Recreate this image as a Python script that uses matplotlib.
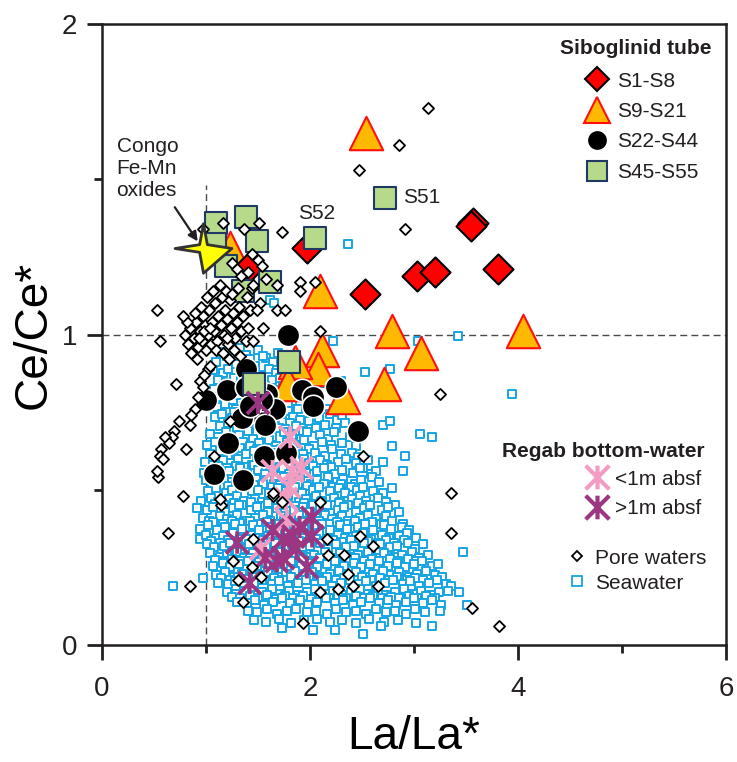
import numpy as np
import matplotlib
matplotlib.use('Agg')
import matplotlib.pyplot as plt
from matplotlib.path import Path
from matplotlib.lines import Line2D

plt.rcParams['font.family'] = ['Liberation Sans', 'DejaVu Sans']
plt.rcParams['text.color'] = '#231F20'

# Siboglinid tube samples
s1_s8_x = [1.42, 1.97, 2.53, 3.03, 3.20, 3.57, 3.55, 3.81]
s1_s8_y = [1.22, 1.28, 1.13, 1.19, 1.20, 1.36, 1.35, 1.21]

s9_s21_x = [2.54, 2.10, 2.79, 4.05, 3.07, 2.12, 2.71, 2.32, 2.08, 1.23, 1.83, 1.86, 1.79]
s9_s21_y = [1.65, 1.14, 1.01, 1.01, 0.94, 0.95, 0.84, 0.80, 0.89, 1.28, 0.86, 0.91, 0.84]

s22_s44_x = [1.79, 1.38, 1.20, 1.00, 1.38, 1.59, 1.66, 1.50, 1.35, 1.57, 1.92, 2.03,
             2.03, 2.25, 2.46, 1.21, 1.56, 1.77, 1.08, 1.36, 1.54, 1.42, 1.47]
s22_s44_y = [1.00, 0.89, 0.82, 0.79, 0.83, 0.81, 0.76, 0.75, 0.73, 0.71, 0.82, 0.80,
             0.77, 0.83, 0.69, 0.65, 0.61, 0.62, 0.55, 0.53, 0.79, 0.77, 0.84]

s45_s55_x = [1.10, 1.38, 1.49, 1.19, 1.36, 1.62, 2.05, 2.72, 1.80, 1.46, 1.09]
s45_s55_y = [1.36, 1.38, 1.30, 1.22, 1.14, 1.17, 1.31, 1.44, 0.91, 0.84, 1.29]

# Regab bottom-water
bw_shallow_x = [1.81, 1.64, 1.83, 1.92, 1.80, 1.77, 1.78, 1.53]
bw_shallow_y = [0.67, 0.56, 0.56, 0.57, 0.51, 0.47, 0.40, 0.31]
bw_deep_x = [1.50, 1.30, 1.64, 1.74, 1.74, 1.87, 2.02, 2.02, 1.97, 1.42, 1.68, 1.84, 1.57, 1.90]
bw_deep_y = [0.78, 0.33, 0.37, 0.34, 0.28, 0.31, 0.41, 0.35, 0.25, 0.20, 0.27, 0.35, 0.28, 0.38]

congo_x, congo_y = 0.97, 1.28

pore_waters = [
    (0.80, 1.00), (0.83, 0.97), (0.85, 1.02), (0.88, 0.99), (0.90, 1.04), (0.92, 0.96),
    (0.94, 1.01), (0.96, 0.98), (0.97, 1.06), (0.99, 1.03), (1.00, 0.95), (1.02, 1.00),
    (1.03, 1.08), (1.05, 0.97), (1.06, 1.04), (1.08, 1.01), (1.09, 1.10), (1.11, 0.98),
    (1.12, 1.06), (1.14, 1.03), (1.15, 1.12), (1.17, 1.00), (1.18, 1.08), (1.20, 1.05),
    (1.21, 0.97), (1.23, 1.11), (1.24, 1.02), (1.26, 1.07), (1.28, 0.99), (1.30, 1.04),
    (1.32, 1.09), (1.34, 1.01), (1.36, 1.06), (1.38, 0.98), (0.86, 0.94), (0.91, 0.92),
    (0.95, 1.09), (1.01, 1.12), (1.07, 1.14), (1.13, 1.16), (1.19, 1.14), (1.25, 1.13),
    (1.31, 1.15), (0.82, 1.04), (0.89, 1.07), (0.93, 0.99), (0.98, 1.01), (1.04, 1.02),
    (1.10, 0.95), (1.16, 0.94), (1.22, 0.92), (1.27, 0.95), (1.33, 0.93), (1.40, 1.02),
    (1.42, 1.08), (1.45, 0.98), (1.39, 1.12), (1.44, 1.15), (1.55, 1.02), (1.20, 0.99),
    (0.53, 1.08), (0.78, 1.06), (0.97, 1.34), (1.16, 1.36), (1.37, 1.34), (1.51, 1.36),
    (1.73, 1.33), (1.44, 1.26), (1.50, 1.24), (1.54, 1.22), (1.25, 1.23), (1.30, 1.21),
    (1.90, 1.17), (1.90, 1.14), (2.05, 1.17), (1.45, 1.16), (1.58, 1.18), (1.68, 1.16),
    (1.52, 1.10), (1.49, 1.08), (1.68, 1.08), (1.76, 1.08), (2.10, 1.01), (1.34, 1.19),
    (1.40, 1.20), (3.13, 1.73), (2.86, 1.61), (2.47, 1.53), (2.91, 1.34), (3.25, 0.81),
    (2.51, 0.61), (3.36, 0.49), (3.36, 0.36), (3.56, 0.12), (3.82, 0.06), (0.56, 0.98),
    (0.71, 0.84), (0.94, 0.85), (1.02, 0.89), (1.04, 0.90), (0.97, 0.83), (0.89, 0.76),
    (0.86, 0.74), (0.85, 0.71), (0.69, 0.69), (0.67, 0.67), (0.61, 0.67), (0.64, 0.65),
    (0.57, 0.63), (0.56, 0.61), (0.59, 0.60), (0.81, 0.63), (1.08, 0.61), (0.54, 0.54),
    (0.53, 0.56), (0.74, 0.72), (0.92, 0.80), (0.98, 0.87), (1.23, 0.72), (0.78, 0.48),
    (0.63, 0.36), (0.85, 0.19), (1.14, 0.45), (1.13, 0.47), (1.64, 0.48), (1.64, 0.49),
    (2.10, 0.46), (1.45, 0.34), (1.26, 0.27), (1.44, 0.25), (1.31, 0.21), (1.53, 0.22),
    (1.36, 0.14), (2.16, 0.34), (2.17, 0.29), (2.33, 0.29), (2.48, 0.35), (2.61, 0.32),
    (2.37, 0.23), (2.41, 0.19), (2.27, 0.18), (2.10, 0.17), (2.65, 0.19), (1.93, 0.07),
    (1.73, 0.46),
]

seawater = [
    (1.14, .945), (1.20, .93), (1.33, .955), (1.38, .935), (1.50, .95), (1.58, .925), (1.69, .94),
    (1.10, .91), (1.23, .925), (1.29, .905), (1.42, .92), (1.47, .90), (1.55, .93), (1.64, .91),
    (1.73, .92), (1.79, .905),
    (1.07, .885), (1.16, .875), (1.21, .89), (1.35, .88), (1.40, .895), (1.53, .87), (1.61, .89),
    (1.67, .875), (1.76, .885), (2.53, .88), (2.77, .89),
    (1.12, .855), (1.19, .845), (1.27, .86), (1.34, .85), (1.46, .865), (1.52, .84), (1.63, .855),
    (1.71, .86), (1.80, .845), (1.96, .85), (2.11, .845), (2.30, .85),
    (1.08, .825), (1.17, .835), (1.24, .82), (1.31, .83), (1.44, .825), (1.49, .815), (1.57, .835),
    (1.68, .82), (1.74, .83), (1.84, .815), (1.91, .83),
    (1.36, .81), (1.54, .815), (1.71, .81),
    (1.06, .795), (1.14, .80), (1.26, .79), (1.33, .805), (1.40, .785), (1.51, .80), (1.59, .79),
    (1.66, .805), (1.77, .795), (1.83, .785), (1.93, .80), (2.00, .79),
    (1.11, .765), (1.18, .775), (1.29, .76), (1.37, .77), (1.46, .78), (1.54, .76), (1.61, .77),
    (1.72, .765), (1.79, .775), (1.88, .76), (1.97, .765), (2.08, .77), (2.15, .76),
    (1.27, .75), (1.44, .755), (1.61, .75), (1.79, .755),
    (1.09, .735), (1.15, .745), (1.25, .73), (1.34, .74), (1.39, .725), (1.49, .745), (1.56, .735),
    (1.66, .73), (1.73, .745), (1.84, .735), (1.90, .725), (2.02, .74), (2.09, .73), (2.19, .745),
    (2.26, .725), (2.31, .74),
    (1.13, .705), (1.21, .715), (1.30, .70), (1.37, .71), (1.47, .72), (1.53, .70), (1.64, .71),
    (1.70, .70), (1.81, .715), (1.87, .705), (1.99, .72), (2.06, .70), (2.14, .71), (2.25, .70),
    (2.34, .715), (2.70, .71), (2.77, .72),
    (1.22, .69), (1.41, .695), (1.58, .69), (1.76, .695), (1.93, .69),
    (1.04, .68), (1.12, .67), (1.19, .685), (1.32, .675), (1.40, .69), (1.45, .665), (1.58, .68),
    (1.63, .67), (1.75, .685), (1.83, .675), (1.91, .665), (1.97, .685), (2.10, .675), (2.17, .665),
    (2.23, .685), (2.38, .67), (3.06, .68), (3.17, .67),
    (1.01, .645), (1.09, .655), (1.18, .64), (1.25, .65), (1.36, .655), (1.42, .64), (1.51, .65),
    (1.61, .66), (1.67, .64), (1.78, .655), (1.86, .645), (1.94, .66), (2.04, .64), (2.12, .655),
    (2.20, .645), (2.31, .65), (2.44, .64), (2.79, .64),
    (1.17, .63), (1.33, .635), (1.49, .632), (1.66, .628), (1.83, .636), (1.99, .63),
    (1.04, .615), (1.13, .625), (1.21, .61), (1.27, .63), (1.38, .615), (1.46, .625), (1.52, .61),
    (1.63, .62), (1.72, .63), (1.79, .61), (1.88, .625), (1.93, .615), (2.05, .62), (2.14, .61),
    (2.21, .63), (2.30, .615), (2.40, .62), (2.46, .605), (2.91, .61),
    (0.99, .59), (1.07, .58), (1.16, .595), (1.24, .585), (1.31, .60), (1.44, .58), (1.49, .595),
    (1.60, .585), (1.66, .60), (1.76, .58), (1.82, .59), (1.94, .60), (1.99, .585), (2.10, .595),
    (2.16, .58), (2.27, .59), (2.35, .60), (2.44, .585), (2.51, .57), (2.56, .595), (2.70, .59),
    (1.12, .575), (1.20, .57), (1.29, .578), (1.37, .572), (1.46, .58), (1.54, .569), (1.62, .577),
    (1.70, .571), (1.79, .579), (1.87, .568), (2.03, .576), (2.20, .572),
    (0.98, .555), (1.09, .565), (1.14, .55), (1.22, .56), (1.33, .57), (1.39, .555), (1.50, .565),
    (1.57, .55), (1.64, .56), (1.74, .57), (1.80, .55), (1.91, .565), (1.96, .555), (2.07, .56),
    (2.13, .57), (2.24, .55), (2.31, .565), (2.41, .555), (2.48, .57), (2.59, .55), (2.63, .56),
    (2.89, .56),
    (1.00, .53), (1.06, .52), (1.17, .535), (1.25, .525), (1.32, .54), (1.42, .52), (1.48, .535),
    (1.59, .53), (1.65, .52), (1.75, .54), (1.84, .525), (1.90, .535), (2.01, .52), (2.07, .53),
    (2.17, .54), (2.26, .525), (2.32, .535), (2.43, .52), (2.49, .53), (2.60, .54), (2.66, .525),
    (1.21, .512), (1.29, .518), (1.38, .508), (1.46, .515), (1.55, .52), (1.63, .51), (1.71, .516),
    (1.80, .507), (1.88, .518), (1.97, .512), (2.05, .506), (2.13, .517), (2.22, .51), (2.30, .52),
    (2.39, .508),
    (1.02, .495), (1.10, .505), (1.19, .49), (1.25, .50), (1.36, .51), (1.44, .495), (1.50, .50),
    (1.61, .49), (1.69, .505), (1.77, .495), (1.86, .51), (1.92, .49), (2.03, .50), (2.09, .51),
    (2.19, .495), (2.28, .505), (2.34, .49), (2.45, .50), (2.51, .51), (2.61, .495), (2.70, .49),
    (2.79, .505),
    (0.95, .465), (1.05, .475), (1.12, .46), (1.22, .47), (1.30, .48), (1.37, .465), (1.47, .47),
    (1.54, .46), (1.64, .475), (1.72, .465), (1.79, .48), (1.89, .46), (1.96, .47), (2.06, .48),
    (2.12, .465), (2.23, .475), (2.29, .46), (2.40, .47), (2.48, .48), (2.54, .465), (2.65, .475),
    (2.73, .46), (2.82, .45),
    (1.09, .455), (1.17, .45), (1.27, .458), (1.35, .452), (1.43, .46), (1.52, .449), (1.60, .457),
    (1.69, .451), (1.77, .459), (1.86, .448), (1.94, .456), (2.03, .452), (2.11, .46), (2.20, .45),
    (2.28, .457), (2.37, .451), (2.46, .459), (2.55, .45),
    (0.91, .44), (1.01, .435), (1.07, .445), (1.18, .43), (1.26, .44), (1.32, .45), (1.43, .435),
    (1.49, .445), (1.60, .43), (1.68, .44), (1.74, .45), (1.85, .435), (1.93, .445), (2.00, .43),
    (2.10, .44), (2.16, .45), (2.27, .435), (2.33, .445), (2.44, .43), (2.52, .44), (2.58, .45),
    (2.69, .435), (2.75, .445), (2.86, .43),
    (0.97, .41), (1.03, .40), (1.13, .415), (1.20, .405), (1.30, .42), (1.37, .40), (1.47, .41),
    (1.55, .42), (1.62, .40), (1.72, .415), (1.79, .405), (1.89, .42), (1.95, .40), (2.06, .41),
    (2.14, .42), (2.21, .405), (2.31, .415), (2.37, .40), (2.48, .41), (2.56, .42), (2.63, .405),
    (2.73, .415), (2.79, .40), (2.89, .39),
    (1.07, .395), (1.16, .39), (1.25, .398), (1.33, .392), (1.42, .40), (1.50, .389), (1.59, .397),
    (1.67, .391), (1.75, .399), (1.84, .388), (1.92, .396), (2.01, .392), (2.09, .40), (2.18, .39),
    (2.26, .397), (2.35, .391), (2.43, .399), (2.52, .39), (2.60, .396), (2.68, .39),
    (0.94, .375), (1.02, .385), (1.11, .37), (1.18, .38), (1.28, .39), (1.35, .375), (1.45, .385),
    (1.51, .37), (1.62, .38), (1.70, .39), (1.77, .37), (1.87, .385), (1.94, .375), (2.04, .38),
    (2.12, .39), (2.19, .37), (2.29, .385), (2.36, .375), (2.46, .38), (2.53, .39), (2.61, .37),
    (2.71, .385), (2.78, .375), (2.88, .38), (2.95, .37),
    (0.94, .34), (1.00, .355), (1.10, .345), (1.16, .35), (1.26, .36), (1.33, .34), (1.43, .355),
    (1.50, .345), (1.60, .35), (1.68, .36), (1.75, .34), (1.85, .355), (1.92, .345), (2.02, .35),
    (2.09, .36), (2.17, .34), (2.27, .355), (2.34, .345), (2.44, .35), (2.51, .36), (2.59, .34),
    (2.69, .355), (2.76, .345), (2.86, .35), (2.93, .36), (3.02, .345),
    (1.05, .335), (1.13, .33), (1.21, .338), (1.30, .332), (1.38, .34), (1.47, .329), (1.55, .337),
    (1.64, .331), (1.72, .339), (1.80, .328), (1.89, .336), (1.97, .332), (2.06, .34), (2.14, .33),
    (2.22, .337), (2.31, .331), (2.39, .339), (2.48, .33), (2.56, .336), (2.65, .33), (2.73, .338),
    (2.81, .33), (2.90, .337),
    (1.01, .325), (1.08, .315), (1.17, .32), (1.23, .33), (1.34, .31), (1.41, .325), (1.51, .315),
    (1.58, .32), (1.66, .33), (1.76, .31), (1.83, .325), (1.93, .315), (2.00, .32), (2.10, .33),
    (2.17, .31), (2.25, .325), (2.35, .315), (2.42, .32), (2.52, .33), (2.59, .31), (2.67, .325),
    (2.77, .315), (2.84, .32), (2.94, .33), (3.01, .31), (3.09, .325),
    (1.04, .295), (1.13, .285), (1.20, .29), (1.30, .30), (1.37, .28), (1.45, .295), (1.55, .285),
    (1.62, .29), (1.72, .30), (1.79, .28), (1.87, .295), (1.97, .285), (2.04, .29), (2.14, .30),
    (2.21, .28), (2.29, .295), (2.39, .285), (2.46, .29), (2.56, .30), (2.63, .28), (2.71, .295),
    (2.81, .285), (2.88, .29), (2.98, .30), (3.05, .28), (3.13, .29), (3.47, .30),
    (1.09, .275), (1.17, .27), (1.25, .278), (1.34, .272), (1.42, .28), (1.51, .269), (1.59, .277),
    (1.68, .271), (1.76, .279), (1.84, .268), (1.93, .276), (2.01, .272), (2.10, .28), (2.18, .27),
    (2.26, .277), (2.35, .271), (2.43, .279), (2.52, .27), (2.60, .276), (2.69, .27), (2.77, .278),
    (2.85, .27), (2.94, .277), (3.02, .27),
    (1.07, .255), (1.16, .265), (1.23, .25), (1.32, .26), (1.40, .27), (1.49, .255), (1.58, .265),
    (1.65, .25), (1.74, .26), (1.82, .27), (1.91, .255), (2.00, .265), (2.07, .25), (2.16, .26),
    (2.24, .27), (2.33, .255), (2.42, .265), (2.49, .25), (2.58, .26), (2.66, .27), (2.75, .255),
    (2.84, .265), (2.91, .25), (3.00, .26), (3.08, .27), (3.17, .255), (3.23, .26),
    (1.10, .225), (1.18, .235), (1.27, .22), (1.35, .23), (1.44, .24), (1.52, .225), (1.60, .235),
    (1.69, .22), (1.77, .23), (1.86, .24), (1.94, .225), (2.02, .235), (2.11, .22), (2.19, .23),
    (2.28, .24), (2.36, .225), (2.44, .235), (2.53, .22), (2.61, .23), (2.70, .24), (2.78, .225),
    (2.86, .235), (2.95, .22), (3.03, .23), (3.12, .24), (3.20, .225), (3.27, .22),
    (1.14, .215), (1.23, .21), (1.31, .218), (1.40, .212), (1.48, .22), (1.57, .209), (1.65, .217),
    (1.74, .211), (1.82, .219), (1.91, .208), (1.99, .216), (2.08, .212), (2.16, .22), (2.25, .21),
    (2.33, .217), (2.42, .211), (2.50, .219), (2.59, .21), (2.67, .216), (2.76, .21), (2.84, .218),
    (2.93, .21), (3.01, .217), (3.09, .21),
    (0.68, .19), (0.97, .215), (1.12, .20), (1.21, .195), (1.28, .205), (1.37, .19), (1.46, .20),
    (1.54, .21), (1.63, .195), (1.70, .205), (1.79, .19), (1.88, .20), (1.96, .21), (2.05, .195),
    (2.12, .205), (2.21, .19), (2.30, .20), (2.38, .21), (2.47, .195), (2.54, .205), (2.63, .19),
    (2.72, .20), (2.80, .21), (2.89, .195), (2.96, .205), (3.05, .19), (3.14, .20), (3.22, .21),
    (3.31, .195), (3.36, .19),
    (1.20, .17), (1.29, .165), (1.37, .175), (1.46, .16), (1.54, .17), (1.63, .18), (1.71, .165),
    (1.80, .175), (1.88, .16), (1.97, .17), (2.05, .18), (2.14, .165), (2.22, .175), (2.31, .16),
    (2.39, .17), (2.48, .18), (2.56, .165), (2.65, .175), (2.73, .16), (2.82, .17), (2.90, .18),
    (2.99, .165), (3.07, .175), (3.16, .16), (3.24, .17), (3.33, .175), (3.43, .17),
    (1.25, .155), (1.33, .15), (1.42, .158), (1.50, .152), (1.59, .16), (1.67, .149), (1.76, .157),
    (1.84, .151), (1.93, .159), (2.01, .148), (2.10, .156), (2.18, .152), (2.27, .16), (2.35, .15),
    (2.44, .157), (2.52, .151), (2.61, .159), (2.69, .15), (2.78, .156), (2.86, .15), (2.95, .158),
    (3.03, .15), (3.12, .157), (3.20, .15),
    (1.30, .14), (1.39, .135), (1.47, .145), (1.56, .13), (1.64, .14), (1.73, .15), (1.81, .135),
    (1.90, .145), (1.98, .13), (2.07, .14), (2.15, .15), (2.24, .135), (2.32, .145), (2.41, .13),
    (2.49, .14), (2.58, .15), (2.66, .135), (2.75, .145), (2.83, .13), (2.92, .14), (3.00, .15),
    (3.09, .135), (3.17, .145), (3.26, .13), (3.51, .13),
    (1.40, .11), (1.49, .105), (1.59, .115), (1.68, .10), (1.78, .11), (1.87, .115), (1.97, .105),
    (2.06, .11), (2.16, .10), (2.25, .115), (2.35, .105), (2.44, .11), (2.54, .10), (2.63, .115),
    (2.73, .105), (2.82, .11), (2.92, .10), (3.01, .115), (3.11, .105), (3.25, .11),
    (1.46, .08), (1.58, .075), (1.70, .085), (1.82, .07), (1.94, .08), (2.07, .085), (2.19, .075),
    (2.31, .08), (2.44, .07), (2.57, .085), (2.71, .075), (2.85, .08), (3.02, .07),
    (1.73, .055), (2.03, .05), (2.24, .05), (2.51, .035), (2.68, .06), (3.17, .06),
    (2.37, 1.29), (1.62, 1.11), (1.65, 1.10), (2.22, .98), (3.04, .98), (3.42, .995), (3.94, .81),
]

# marker shapes
asterisk = Path([(0, -1), (0, 1), (-1, -1), (1, 1), (-1, 1), (1, -1)],
                [Path.MOVETO, Path.LINETO] * 3)
ang = np.deg2rad(np.arange(0, 360, 45))
rad = np.array([1.15, 0.22, 1.0, 0.22, 1.15, 0.22, 1.0, 0.22])
star4 = Path(np.column_stack([rad * np.cos(ang), rad * np.sin(ang)]), closed=True)

ink = '#231F20'
sw_col = '#14A5E3'
tri_face, tri_edge = '#FFB900', '#FF1010'
green, navy = '#B6D98A', '#1F3864'
pink, purple = '#F29CC2', '#9C3582'

fig = plt.figure(figsize=(7.37, 7.62), dpi=100)
ax = fig.add_axes([0.1384, 0.1535, 0.8467, 0.815])

sw = np.array(seawater)
pw = np.array(pore_waters)

ax.axhline(1, color='#4A4A4A', lw=1, ls=(0, (5, 3)), zorder=1)
ax.vlines(1, 0, 1.48, color='#4A4A4A', lw=1, ls=(0, (5, 3)), zorder=1)

ax.scatter(sw[:, 0], sw[:, 1], marker='s', s=30, facecolors='white',
           edgecolors=sw_col, linewidths=1.4, zorder=2)
ax.scatter(s9_s21_x, s9_s21_y, marker='^', s=580, facecolors=tri_face,
           edgecolors=tri_edge, linewidths=1.5, zorder=3)
ax.scatter(s1_s8_x, s1_s8_y, marker='D', s=234, facecolors='#FF0000',
           edgecolors='black', linewidths=1.5, zorder=4)
ax.scatter(s22_s44_x, s22_s44_y, marker='o', s=260, facecolors='black',
           edgecolors='white', linewidths=1.2, zorder=5)
ax.scatter(s45_s55_x, s45_s55_y, marker='s', s=272, facecolors=green,
           edgecolors=navy, linewidths=1.5, zorder=6)
ax.scatter(bw_shallow_x, bw_shallow_y, marker=asterisk, s=256, facecolors='none',
           edgecolors=pink, linewidths=2.8, zorder=7)
ax.scatter(bw_deep_x, bw_deep_y, marker=asterisk, s=256, facecolors='none',
           edgecolors=purple, linewidths=2.8, zorder=7)
ax.scatter(pw[:, 0], pw[:, 1], marker='D', s=32, facecolors='white',
           edgecolors='black', linewidths=1.3, zorder=8)
ax.scatter([congo_x], [congo_y], marker=star4, s=1680, facecolors='#FFFF00',
           edgecolors='#333333', linewidths=2, zorder=9)

ax.text(0.14, 1.635, 'Congo\nFe-Mn\noxides', fontsize=15, va='top', ha='left',
        linespacing=1.2, color=ink)
ax.annotate('', xy=(0.92, 1.30), xytext=(0.70, 1.41),
            arrowprops=dict(arrowstyle='-|>', color=ink, lw=1.6,
                            mutation_scale=14, shrinkA=0, shrinkB=0), zorder=10)
ax.text(2.06, 1.39, 'S52', fontsize=15, ha='center', va='center')
ax.text(2.89, 1.44, 'S51', fontsize=15, ha='left', va='center')

ax.set_xlim(0, 6)
ax.set_ylim(0, 2)
ax.set_xticks([0, 2, 4, 6])
ax.set_xticks([1, 3, 5], minor=True)
ax.set_yticks([0, 1, 2])
ax.set_yticks([0.5, 1.5], minor=True)
ax.tick_params(which='major', length=11, width=2, labelsize=20, pad=7,
               color=ink, labelcolor=ink)
ax.tick_params(axis='x', which='major', pad=11)
ax.tick_params(which='minor', length=6, width=2, color=ink)
for sp in ax.spines.values():
    sp.set_linewidth(1.8)
    sp.set_color(ink)

ax.set_xlabel('La/La*', fontsize=33, labelpad=10)
ax.set_ylabel('Ce/Ce*', fontsize=33, labelpad=4)

# legends
ax.text(0.976, 0.961, 'Siboglinid tube', transform=ax.transAxes, fontsize=15,
        fontweight='bold', ha='right', va='center')
ax.text(0.966, 0.311, 'Regab bottom-water', transform=ax.transAxes, fontsize=15,
        fontweight='bold', ha='right', va='center')

tube_handles = [
    Line2D([], [], ls='none', marker='D', ms=12.5, mfc='#FF0000', mec='black', mew=1.5, label='S1-S8'),
    Line2D([], [], ls='none', marker='^', ms=19, mfc=tri_face, mec=tri_edge, mew=1.5, label='S9-S21'),
    Line2D([], [], ls='none', marker='o', ms=14.5, mfc='black', mec='white', mew=1, label='S22-S44'),
    Line2D([], [], ls='none', marker='s', ms=14.5, mfc=green, mec=navy, mew=1.5, label='S45-S55'),
]
water_handles = [
    Line2D([], [], ls='none', marker=asterisk, ms=17, mec=pink, mew=3, label='<1m absf'),
    Line2D([], [], ls='none', marker=asterisk, ms=17, mec=purple, mew=3, label='>1m absf'),
]
other_handles = [
    Line2D([], [], ls='none', marker='D', ms=5.5, mfc='white', mec='black', mew=1.3, label='Pore waters'),
    Line2D([], [], ls='none', marker='s', ms=6.5, mfc='white', mec=sw_col, mew=1.3, label='Seawater'),
]

common = dict(frameon=False, fontsize=15, borderpad=0, borderaxespad=0,
              numpoints=1, loc='upper left', handlelength=1.2)

leg1 = ax.legend(handles=tube_handles, bbox_to_anchor=(0.773, 0.9235),
                 handletextpad=0.36, labelspacing=0.55, **common)
ax.add_artist(leg1)
leg2 = ax.legend(handles=water_handles, bbox_to_anchor=(0.773, 0.2826),
                 handletextpad=0.26, labelspacing=0.5, **common)
ax.add_artist(leg2)
leg3 = ax.legend(handles=other_handles, bbox_to_anchor=(0.741, 0.1554),
                 handletextpad=0.26, labelspacing=0.29, **common)

fig.savefig('out.png', dpi=100)
